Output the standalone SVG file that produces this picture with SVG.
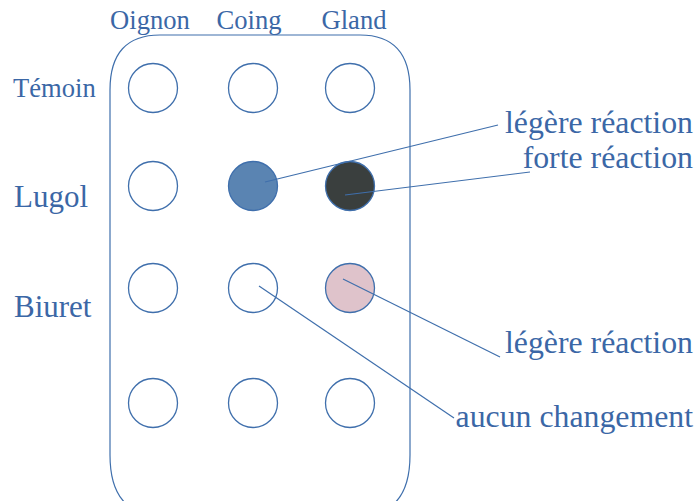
<svg xmlns="http://www.w3.org/2000/svg" width="700" height="501" viewBox="0 0 700 501">
<style>
text{font-family:"Liberation Serif","Times New Roman",serif;fill:#3b67a6}
.h{font-size:26.6px}
.b{font-size:31px}
.r{font-size:31.8px}
.w{stroke:#3f6fac;stroke-width:1.3}
.e{fill:#ffffff}
.c{fill:none;stroke:#3f6fac;stroke-width:1.2}
</style>
<rect width="700" height="501" fill="#ffffff"/>
<g id="plate">
<path class="c" d="M110,90 Q110,35 160,35 L360,35 Q410,35 410,90 L410,455 Q410,515 360,515 L160,515 Q110,515 110,455 Z"/>
</g>
<g id="headers">
<text class="h" x="150" y="29" text-anchor="middle">Oignon</text>
<text class="h" x="249" y="29" text-anchor="middle">Coing</text>
<text class="h" x="354" y="29" text-anchor="middle">Gland</text>
<text class="h" x="13" y="97">Témoin</text>
<text class="b" x="14" y="207">Lugol</text>
<text class="b" x="14" y="317">Biuret</text>
</g>
<g id="wells">
<circle class="w e" cx="153" cy="88" r="24.5"/>
<circle class="w e" cx="253" cy="88" r="24.5"/>
<circle class="w e" cx="350" cy="88" r="24.5"/>
<circle class="w e" cx="153" cy="186" r="24.5"/>
<circle class="w" cx="253" cy="186" r="24.5" fill="#5a84b2"/>
<circle class="w" cx="350" cy="186" r="24.5" fill="#3a3f3e"/>
<circle class="w e" cx="153" cy="288" r="24.5"/>
<circle class="w e" cx="253" cy="288" r="24.5"/>
<circle class="w" cx="350" cy="288" r="24.5" fill="#dfc3cb"/>
<circle class="w e" cx="153" cy="403" r="24.5"/>
<circle class="w e" cx="253" cy="403" r="24.5"/>
<circle class="w e" cx="350" cy="403" r="24.5"/>
</g>
<g id="connectors" stroke="#3f6fac" stroke-width="1.2" fill="none">
<line x1="265" y1="182" x2="498" y2="125"/>
<line x1="345" y1="195" x2="530" y2="172"/>
<line x1="343" y1="279" x2="500" y2="357"/>
<line x1="259" y1="286" x2="454" y2="418"/>
</g>
<g id="labels">
<text class="r" x="693" y="133" text-anchor="end">légère réaction</text>
<text class="r" x="693" y="168" text-anchor="end">forte réaction</text>
<text class="r" x="693" y="353" text-anchor="end">légère réaction</text>
<text class="r" x="693" y="427" text-anchor="end">aucun changement</text>
</g>
</svg>
